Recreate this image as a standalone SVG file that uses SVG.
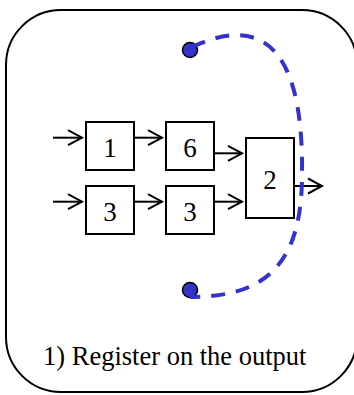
<svg xmlns="http://www.w3.org/2000/svg" width="354" height="395" viewBox="0 0 354 395">
<style>
.box{fill:#fff;stroke:#000;stroke-width:2}
.lbl{font-family:"Liberation Serif","Times New Roman",serif;font-size:27px;fill:#000;text-anchor:middle}
.arr{stroke:#000;stroke-width:2;fill:none;marker-end:url(#ah)}
.dash{stroke:#3333cc;stroke-width:4;fill:none;stroke-dasharray:14 11}
.dot{fill:#3333cc;stroke:#000;stroke-width:1.5}
</style>
<defs>
<marker id="ah" markerUnits="userSpaceOnUse" markerWidth="18" markerHeight="18" refX="14" refY="8" orient="auto" viewBox="-1 0 18 16">
<path d="M0,0.5 L14,8 L0,15.5" fill="none" stroke="#000" stroke-width="2"/>
</marker>
</defs>
<rect id="frame" x="6" y="10" width="351" height="382" rx="55" ry="55" fill="#fff" stroke="#000" stroke-width="2"/>
<g id="n1"><rect class="box" x="86" y="122" width="48" height="48"/><text class="lbl" x="110" y="156.5">1</text></g>
<g id="n6"><rect class="box" x="166" y="122" width="48" height="48"/><text class="lbl" x="190" y="156.5">6</text></g>
<g id="n3a"><rect class="box" x="86" y="186" width="48" height="48"/><text class="lbl" x="110" y="220.5">3</text></g>
<g id="n3b"><rect class="box" x="166" y="186" width="48" height="48"/><text class="lbl" x="190" y="220.5">3</text></g>
<g id="n2"><rect class="box" x="246" y="138" width="48" height="80"/><text class="lbl" x="270" y="188.5">2</text></g>
<g id="connectors">
<line class="arr" x1="53" y1="137.7" x2="82" y2="137.7"/>
<line class="arr" x1="53" y1="201.7" x2="82" y2="201.7"/>
<line class="arr" x1="134" y1="137.7" x2="162" y2="137.7"/>
<line class="arr" x1="134" y1="201.7" x2="162" y2="201.7"/>
<line class="arr" x1="214" y1="153.3" x2="242" y2="153.3"/>
<line class="arr" x1="214" y1="201.7" x2="242" y2="201.7"/>
<line class="arr" x1="294" y1="186" x2="322" y2="186"/>
</g>
<g id="cut">
<circle class="dot" cx="190" cy="50" r="7.5"/>
<circle class="dot" cx="190" cy="290" r="7.5"/>
<path class="dash" d="M192,47 C250,20 304,30 302,175 C302,268 262,297 190,297"/>
</g>
<text id="caption" x="43" y="365" font-family="'Liberation Serif','Times New Roman',serif" font-size="26.5" fill="#000">1) Register on the output</text>
</svg>
